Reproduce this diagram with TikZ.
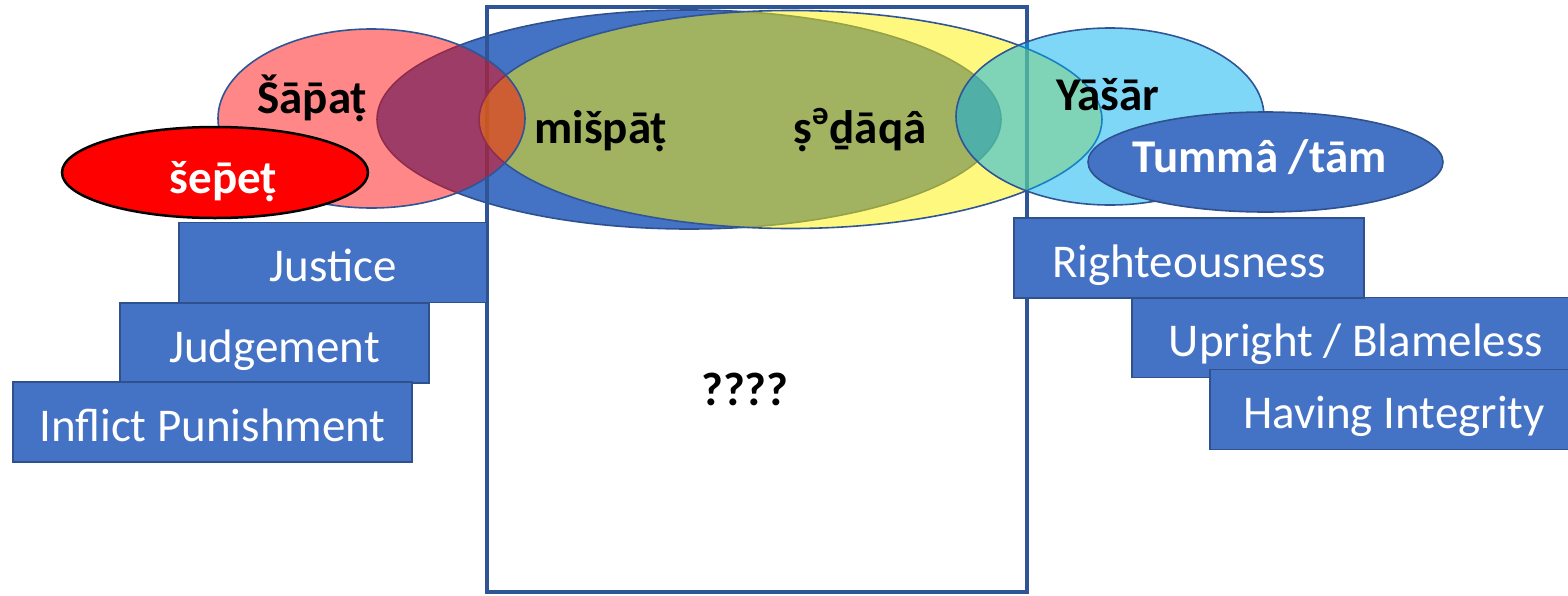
\documentclass[tikz,border=0pt]{standalone}
\usepackage{fontspec}
\setmainfont{Carlito}
\usetikzlibrary{shapes.geometric}

\definecolor{boxblue}{HTML}{4472C4}
\definecolor{edgeblue}{HTML}{2F528F}
\definecolor{frameblue}{HTML}{2F5597}
\definecolor{skyblue}{HTML}{00B0F0}

\newcommand{\wordsize}{\fontsize{23.5}{28}\selectfont}
% p with a macron on top (the font has no combining macron)
\newcommand{\pmacron}{\ooalign{\hidewidth¯\hidewidth\cr p\cr}}

\tikzset{
  blob/.style={ellipse, draw=frameblue, line width=0.8pt, inner sep=0pt},
  wordbox/.style={rectangle, draw=edgeblue, line width=0.75pt, fill=boxblue,
    text=white, font=\wordsize, inner sep=0pt, text height=21pt, text depth=2pt,
    minimum height=40pt},
  term/.style={inner sep=0pt, font=\wordsize\bfseries}
}

\begin{document}
\begin{tikzpicture}[x=0.5pt,y=-0.5pt]
  \useasboundingbox (0,0) rectangle (1568,595);

  % the two big overlapping fields
  \node[blob, draw=edgeblue, fill=boxblue, minimum width=312pt, minimum height=109.5pt] (mispatfield) at (689,119.5) {};
  \draw[frameblue, line width=2pt] (487,7) rectangle (1027,592);
  \node[blob, fill=yellow, fill opacity=0.5, minimum width=311.5pt, minimum height=109pt] (sedaqafield) at (790.5,119.5) {};

  % side fields
  \node[blob, fill=red, fill opacity=0.47, minimum width=153.5pt, minimum height=89.5pt] (sapatfield) at (371.5,118.5) {};
  \node[blob, fill=skyblue, fill opacity=0.5, minimum width=154pt, minimum height=88.5pt] (yasarfield) at (1110,116.5) {};
  \node[ellipse, draw=black, line width=1.25pt, fill=red, inner sep=0pt, minimum width=153pt, minimum height=45.5pt] (sepetfield) at (215,172.5) {};
  \node[blob, draw=edgeblue, fill=boxblue, minimum width=177.5pt, minimum height=50pt] (tummafield) at (1265.5,162) {};

  % meanings
  \node[wordbox, minimum width=154pt] (justice) at (333,262.5) {Justice};
  \node[wordbox, minimum width=154.5pt] (judgement) at (274.5,343) {Judgement};
  \node[wordbox, minimum width=199.5pt] (inflict) at (212.5,422) {Inflict Punishment};
  \node[wordbox, minimum width=224pt] (upright) at (1356,337.5) {Upright / Blameless};
  \node[wordbox, minimum width=175pt] (righteous) at (1189,258) {Righteousness};
  \node[wordbox, minimum width=184pt] (integrity) at (1394,409.5) {Having Integrity};

  % hebrew terms
  \node[term, anchor=base west] (sapat) at (257,113) {Šā\pmacron aṭ};
  \node[term, anchor=base west] (mispat) at (534,143) {mišpāṭ};
  \node[term, anchor=base west] (sedaqa) at (793,143) {ṣ\textsuperscript{ə}ḏāqâ};
  \node[term, anchor=base west] (yasar) at (1056,110) {Yāšār};
  \node[term, anchor=base, text=white] (sepet) at (223.5,193) {še\pmacron eṭ};
  \node[term, anchor=base, text=white] (tumma) at (1259.5,172) {Tummâ /tām};
  \node[term, anchor=base] (unknown) at (745,405) {????};
\end{tikzpicture}
\end{document}
